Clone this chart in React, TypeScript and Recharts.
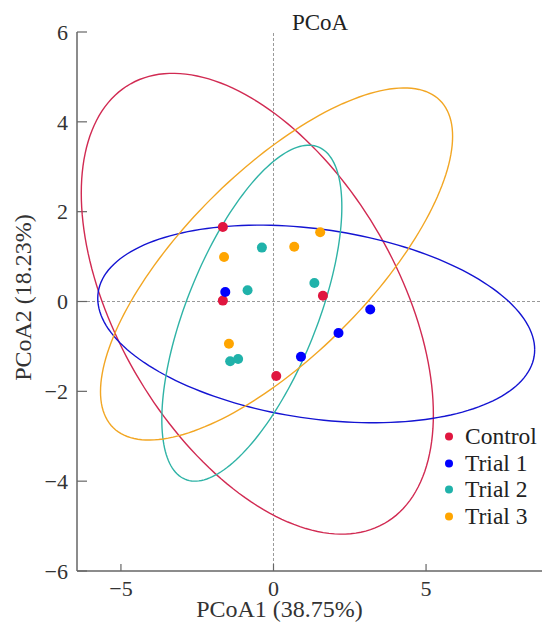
import React from 'react';
import { ScatterChart, Scatter, XAxis, YAxis, ReferenceLine, Legend } from 'recharts';

const GROUPS = ['Control', 'Trial 1', 'Trial 2', 'Trial 3'];
const POINT_COLORS = ['#E0163F', '#0000FF', '#20B2AA', '#FFA500'];
const ELLIPSE_COLORS = ['#D12A52', '#1414D2', '#2FB3A6', '#F2A623'];

// sample scores (PCoA1, PCoA2)
const controlPoints = [
  { x: -1.66, y: 1.66 },
  { x: -1.66, y: 0.02 },
  { x: 1.62, y: 0.13 },
  { x: 0.09, y: -1.66 },
];
const trial1Points = [
  { x: -1.58, y: 0.21 },
  { x: 3.17, y: -0.18 },
  { x: 2.13, y: -0.7 },
  { x: 0.9, y: -1.23 },
];
const trial2Points = [
  { x: -0.38, y: 1.2 },
  { x: -0.85, y: 0.25 },
  { x: 1.34, y: 0.41 },
  { x: -1.42, y: -1.33 },
  { x: -1.16, y: -1.28 },
];
const trial3Points = [
  { x: -1.62, y: 0.99 },
  { x: 1.53, y: 1.54 },
  { x: 0.68, y: 1.22 },
  { x: -1.46, y: -0.94 },
];
const POINTS = [controlPoints, trial1Points, trial2Points, trial3Points];

// confidence ellipses: centre, half extents along each axis, correlation
const ellipseCenterX = [-0.53, 1.4, -0.71, 0.1];
const ellipseCenterY = [-0.05, -0.5, -0.26, 0.835];
const ellipseRadiusX = [5.77, 7.16, 2.95, 5.77];
const ellipseRadiusY = [5.13, 2.2, 3.74, 3.92];
const ellipseCorr = [-0.48, -0.26, 0.633, 0.725];

const X_TICKS = [-5, 0, 5];
const Y_TICKS = [-6, -4, -2, 0, 2, 4, 6];

const ellipsePath = (i: number) => {
  const steps = 180;
  const out = [];
  const r = ellipseCorr[i];
  const s = Math.sqrt(1 - r * r);
  for (let k = 0; k <= steps; k++) {
    const t = (k / steps) * Math.PI * 2;
    out.push({
      x: ellipseCenterX[i] + ellipseRadiusX[i] * Math.cos(t),
      y: ellipseCenterY[i] + ellipseRadiusY[i] * (r * Math.cos(t) + s * Math.sin(t)),
    });
  }
  return out;
};

const fmt = (v: number) => String(v).replace('-', '\u2212');

const FONT = "'Liberation Serif', 'Times New Roman', 'DejaVu Serif', serif";

const renderLegend = () => (
  <div style={{ fontFamily: FONT, fontSize: 23.5, color: '#222' }}>
    {GROUPS.map((g, i) => (
      <div key={g} style={{ height: 26.7, lineHeight: '26.7px', display: 'flex', alignItems: 'center' }}>
        <svg width={21} height={26.7} style={{ marginLeft: 2 }}>
          <circle cx={5} cy={13.5} r={4} fill={POINT_COLORS[i]} />
        </svg>
        <span style={{ whiteSpace: 'nowrap', fontFamily: FONT }}>{g}</span>
      </div>
    ))}
  </div>
);

export default function App() {
  return (
    <div style={{ position: 'absolute', left: 0, top: 0, width: 544, height: 622, fontFamily: FONT }}>
      <div
        style={{
          position: 'absolute',
          left: 270,
          top: 12,
          width: 100,
          textAlign: 'center',
          fontFamily: FONT,
          fontSize: 23,
          lineHeight: '22px',
          color: '#222',
          zIndex: 2,
        }}
      >
        PCoA
      </div>
      <ScatterChart
        width={544}
        height={622}
        margin={{ top: 32, right: 2, bottom: 0, left: 0 }}
        style={{ fontFamily: FONT }}
      >
        <XAxis
          type="number"
          dataKey="x"
          domain={[-6.44, 8.8]}
          ticks={X_TICKS}
          interval={0}
          allowDataOverflow
          height={51}
          tickSize={-7}
          tickMargin={16}
          tickFormatter={fmt}
          axisLine={{ stroke: '#666', strokeWidth: 1.5 }}
          tickLine={{ stroke: '#666', strokeWidth: 1.2 }}
          tick={{ fill: '#333', fontSize: 22, fontFamily: FONT }}
          label={{
            value: 'PCoA1 (38.75%)',
            position: 'center',
            dx: -30,
            dy: 12,
            fill: '#333',
            fontSize: 24,
            fontFamily: FONT,
          }}
        />
        <YAxis
          type="number"
          dataKey="y"
          domain={[-6, 6]}
          ticks={Y_TICKS}
          interval={0}
          allowDataOverflow
          width={77}
          tickSize={-10}
          tickMargin={19}
          tickFormatter={fmt}
          axisLine={{ stroke: '#666', strokeWidth: 1.5 }}
          tickLine={{ stroke: '#666', strokeWidth: 1.2 }}
          tick={{ fill: '#333', fontSize: 22, fontFamily: FONT }}
          label={{
            value: 'PCoA2 (18.23%)',
            position: 'center',
            angle: -90,
            dx: -16,
            dy: -4,
            fill: '#333',
            fontSize: 24,
            fontFamily: FONT,
          }}
        />
        <ReferenceLine x={0} stroke="#999" strokeDasharray="3 2" strokeWidth={1} />
        <ReferenceLine y={0} stroke="#999" strokeDasharray="3 2" strokeWidth={1} />
        {GROUPS.map((g, i) => (
          <Scatter
            key={'ell-' + g}
            name={g + ' ellipse'}
            data={ellipsePath(i)}
            line={{ stroke: ELLIPSE_COLORS[i], strokeWidth: 1.4 }}
            shape={() => <g />}
            legendType="none"
            isAnimationActive={false}
          />
        ))}
        {GROUPS.map((g, i) => (
          <Scatter
            key={g}
            name={g}
            data={POINTS[i]}
            fill={POINT_COLORS[i]}
            shape={(p: any) => <circle cx={p.cx} cy={p.cy} r={5} fill={POINT_COLORS[i]} />}
            isAnimationActive={false}
          />
        ))}
        <Legend
          layout="vertical"
          align="center"
          verticalAlign="middle"
          content={renderLegend}
          wrapperStyle={{ left: 442, top: 423, width: 104 }}
        />
      </ScatterChart>
    </div>
  );
}
